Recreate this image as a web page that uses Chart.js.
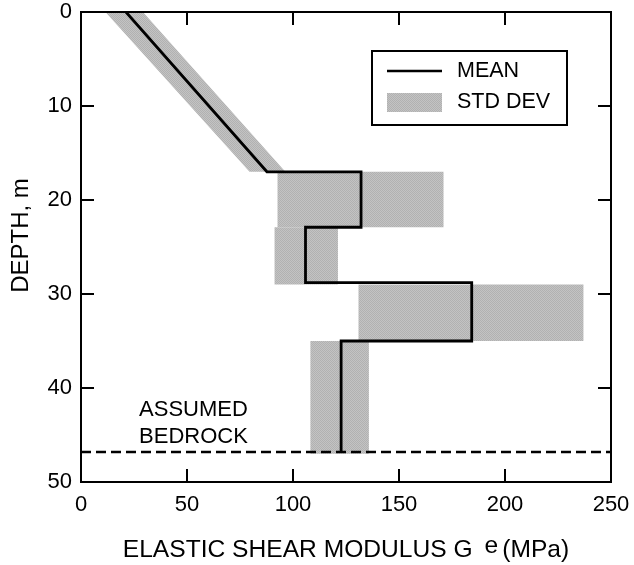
<!DOCTYPE html>
<html>
<head>
<meta charset="utf-8">
<script src="https://cdn.jsdelivr.net/npm/chart.js@4"></script>
<style>
  html, body { margin: 0; padding: 0; background: #fff; }
  #wrap { width: 634px; height: 565px; position: relative; }
</style>
</head>
<body>
<div id="wrap"><canvas id="c"></canvas></div>
<script>
const FONT = '"Liberation Sans", Arial, Helvetica, sans-serif';

// Mean shear modulus profile: a step path down the soil column (MPa vs depth in m)
const meanDepth   = [0, 17, 17, 22.9, 22.9, 28.8, 28.8, 35, 35, 46.8];
const meanModulus = [21.2, 87.7, 132.1, 132.1, 105.9, 105.9, 184.3, 184.3, 122.7, 122.7];

// Standard deviation band, one entry per layer
const layerTop      = [0, 17, 22.9, 29, 35];
const layerBottom   = [17, 22.9, 29, 35, 47];
const lowerAtTop    = [11.5, 92.7, 91.3, 130.9, 108.2];
const upperAtTop    = [29.2, 171.0, 121.2, 237.0, 135.8];
const lowerAtBottom = [79.5, 92.7, 91.3, 130.9, 108.2];
const upperAtBottom = [96.4, 171.0, 121.2, 237.0, 135.8];

// Assumed bedrock level
const bedrockDepth = 46.8;

// Axis ticks and text
const xTicks = [0, 50, 100, 150, 200, 250];
const yTicks = [0, 10, 20, 30, 40, 50];
const seriesLabels = ['MEAN', 'STD DEV'];
const bedrockLabel = ['ASSUMED', 'BEDROCK'];
const xTitle = ['ELASTIC SHEAR MODULUS G', 'e', '(MPa)'];
const yTitle = 'DEPTH, m';

// Stippled grey fill used for the deviation band
function makeStipple() {
  const p = document.createElement('canvas');
  p.width = 2; p.height = 2;
  const g = p.getContext('2d');
  g.fillStyle = '#c3c3c3'; g.fillRect(0, 0, 2, 2);
  g.fillStyle = '#b1b1b1'; g.fillRect(0, 0, 1, 1); g.fillRect(1, 1, 1, 1);
  return g.createPattern(p, 'repeat');
}
const stipple = makeStipple();

const datasets = [];

// bedrock dashed line (drawn on top)
datasets.push({
  label: 'bedrock',
  data: [{ x: 0, y: bedrockDepth }, { x: 250, y: bedrockDepth }],
  showLine: true, borderColor: '#000', borderWidth: 2.5, borderDash: [10, 5],
  pointRadius: 0, fill: false
});

// mean step line
datasets.push({
  label: seriesLabels[0],
  data: meanDepth.map((d, i) => ({ x: meanModulus[i], y: d })),
  showLine: true, borderColor: '#000', borderWidth: 2.8, pointRadius: 0,
  fill: false, borderJoinStyle: 'miter', borderCapStyle: 'butt'
});

// deviation band, one closed polygon per layer
layerTop.forEach((top, i) => {
  datasets.push({
    label: seriesLabels[1],
    data: [
      { x: lowerAtTop[i], y: top },
      { x: upperAtTop[i], y: top },
      { x: upperAtBottom[i], y: layerBottom[i] },
      { x: lowerAtBottom[i], y: layerBottom[i] },
      { x: lowerAtTop[i], y: top }
    ],
    showLine: true, borderWidth: 0, borderColor: 'rgba(0,0,0,0)',
    backgroundColor: stipple, fill: 'shape', pointRadius: 0
  });
});

const decorations = {
  id: 'decorations',
  afterDatasetsDraw(chart) {
    const ctx = chart.ctx;
    const a = chart.chartArea;
    const xs = chart.scales.x, ys = chart.scales.y;
    ctx.save();
    ctx.strokeStyle = '#000';
    ctx.fillStyle = '#000';
    ctx.lineWidth = 2;

    // frame
    ctx.strokeRect(a.left, a.top, a.right - a.left, a.bottom - a.top);

    // inward tick marks on all four sides
    const tl = 13;
    ctx.beginPath();
    xTicks.slice(1, -1).forEach(v => {
      const px = xs.getPixelForValue(v);
      ctx.moveTo(px, a.bottom); ctx.lineTo(px, a.bottom - tl);
      ctx.moveTo(px, a.top); ctx.lineTo(px, a.top + tl);
    });
    yTicks.slice(1, -1).forEach(v => {
      const py = ys.getPixelForValue(v);
      ctx.moveTo(a.left, py); ctx.lineTo(a.left + tl, py);
      ctx.moveTo(a.right, py); ctx.lineTo(a.right - tl, py);
    });
    ctx.stroke();

    // bedrock note
    ctx.font = '22px ' + FONT;
    ctx.textAlign = 'left';
    ctx.textBaseline = 'middle';
    ctx.fillText(bedrockLabel[0], xs.getPixelForValue(27.4), ys.getPixelForValue(42.3));
    ctx.fillText(bedrockLabel[1], xs.getPixelForValue(27.4), ys.getPixelForValue(45.2));

    // legend
    const bx = a.right - 239, by = a.top + 39, bw = 195, bh = 74;
    ctx.fillStyle = '#fff';
    ctx.fillRect(bx, by, bw, bh);
    ctx.strokeRect(bx, by, bw, bh);
    ctx.lineWidth = 2.7;
    ctx.beginPath();
    ctx.moveTo(bx + 15, by + 20); ctx.lineTo(bx + 70, by + 20);
    ctx.stroke();
    ctx.fillStyle = stipple;
    ctx.fillRect(bx + 15, by + 42, 55, 19);
    ctx.fillStyle = '#000';
    ctx.font = '21.5px ' + FONT;
    ctx.fillText(seriesLabels[0], bx + 85, by + 20);
    ctx.fillText(seriesLabels[1], bx + 85, by + 51);

    // x axis title with superscript
    ctx.font = '24.6px ' + FONT;
    ctx.textBaseline = 'alphabetic';
    const w0 = ctx.measureText(xTitle[0]).width;
    const w1 = ctx.measureText(xTitle[1]).width;
    const w2 = ctx.measureText(xTitle[2]).width;
    const gap1 = 12, gap2 = 4;
    const total = w0 + gap1 + w1 + gap2 + w2;
    let tx = (a.left + a.right) / 2 - total / 2;
    const base = 557;
    ctx.fillText(xTitle[0], tx, base);
    tx += w0 + gap1;
    ctx.fillText(xTitle[1], tx, base - 4);
    tx += w1 + gap2;
    ctx.fillText(xTitle[2], tx, base);

    // y axis title
    ctx.font = '24px ' + FONT;
    ctx.translate(21, 235.5);
    ctx.rotate(-Math.PI / 2);
    ctx.textAlign = 'center';
    ctx.textBaseline = 'middle';
    ctx.fillText(yTitle, 0, 0);
    ctx.restore();
  }
};

new Chart(document.getElementById('c'), {
  type: 'scatter',
  data: { datasets },
  options: {
    responsive: true,
    maintainAspectRatio: false,
    animation: false,
    events: [],
    layout: { padding: { top: 12, right: 23, left: 0, bottom: 0 } },
    plugins: { legend: { display: false }, tooltip: { enabled: false } },
    scales: {
      x: {
        type: 'linear', min: 0, max: 250,
        afterBuildTicks: s => { s.ticks = xTicks.map(v => ({ value: v })); },
        afterFit: s => { s.height = 83; s.paddingLeft = 0; s.paddingRight = 0; },
        grid: { display: false, drawTicks: false },
        border: { display: false },
        ticks: { color: '#000', padding: 12, maxRotation: 0, autoSkip: false,
                 font: { family: FONT, size: 22, lineHeight: 1 } }
      },
      y: {
        type: 'linear', min: 0, max: 50, reverse: true,
        afterBuildTicks: s => { s.ticks = yTicks.map(v => ({ value: v })); },
        afterFit: s => { s.width = 81; s.paddingTop = 0; s.paddingBottom = 0; },
        grid: { display: false, drawTicks: false },
        border: { display: false },
        ticks: { color: '#000', padding: 9, autoSkip: false,
                 font: { family: FONT, size: 22, lineHeight: 1 } }
      }
    }
  },
  plugins: [decorations]
});
</script>
</body>
</html>
